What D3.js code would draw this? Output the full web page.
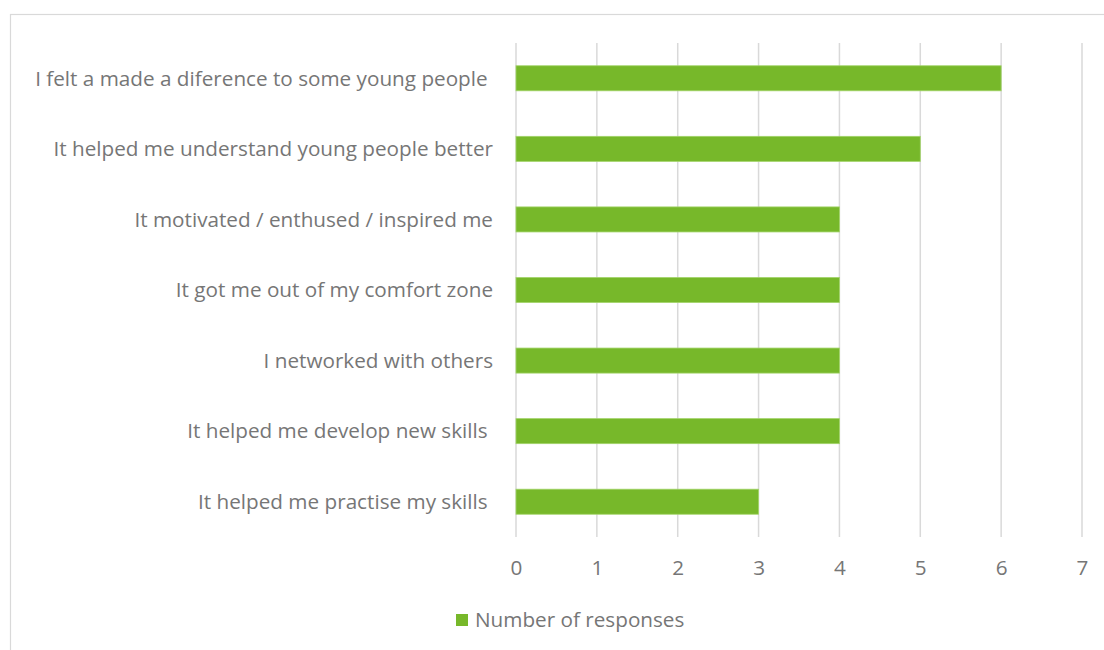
<!DOCTYPE html>
<html><head><meta charset="utf-8">
<script src="https://cdn.jsdelivr.net/npm/d3@7/dist/d3.min.js"></script>
<style>body{margin:0;background:#fff;} text{font-family:"Open Sans",sans-serif;}</style>
</head><body>
<svg id="c" width="1104" height="650"></svg>
<script>
const categories = [
  "I felt a made a diference to some young people ",
  "It helped me understand young people better",
  "It motivated / enthused / inspired me",
  "It got me out of my comfort zone",
  "I networked with others",
  "It helped me develop new skills ",
  "It helped me practise my skills "
];
const values = [6, 5, 4, 4, 4, 4, 3];
const ticks = [0, 1, 2, 3, 4, 5, 6, 7];
const seriesName = "Number of responses";

const svg = d3.select("#c");
svg.append("rect").attr("x",10.5).attr("y",14.5).attr("width",1200).attr("height",700)
  .attr("fill","none").attr("stroke","#d9d9d9").attr("stroke-width",1.2);

const x = d3.scaleLinear().domain([0,7]).range([516,1082]);
const y = d3.scaleBand().domain(categories).range([43,537]).paddingInner(0.645).paddingOuter(0.3225);

const g = svg.append("g");
g.selectAll("line.grid").data(ticks).join("line")
  .attr("x1",d=>x(d)).attr("x2",d=>x(d)).attr("y1",43).attr("y2",537)
  .attr("stroke","#d9d9d9").attr("stroke-width",1.5);

g.selectAll("rect.bar").data(values).join("rect")
  .attr("x",x(0)).attr("y",(d,i)=>y(categories[i]))
  .attr("width",d=>x(d)-x(0)).attr("height",y.bandwidth())
  .attr("fill","#77b82a").attr("stroke","#a3d46a").attr("stroke-width",0.8);

const fs = "20.7px";
g.selectAll("text.cat").data(categories).join("text")
  .attr("x",493).attr("y",d=>y(d)+y.bandwidth()/2).attr("dy","0.35em")
  .attr("text-anchor","end").attr("xml:space","preserve").style("white-space","pre")
  .attr("fill","#767676").attr("font-size",fs).text(d=>d);

const ax = d3.axisBottom(x).tickValues(ticks).tickSize(0).tickPadding(0).tickFormat(d3.format("d"));
const axg = svg.append("g").attr("transform","translate(0,568)").call(ax);
axg.select(".domain").remove();
axg.selectAll("text").attr("dy","0.35em").attr("fill","#767676").attr("font-size",fs).style("font-family","'Open Sans',sans-serif");

const lg = svg.append("g");
lg.append("rect").attr("x",456).attr("y",614).attr("width",12).attr("height",12).attr("fill","#77b82a");
lg.append("text").attr("x",475).attr("y",620).attr("dy","0.35em").attr("fill","#767676")
  .attr("font-size",fs).text(seriesName);
</script>
</body></html>
